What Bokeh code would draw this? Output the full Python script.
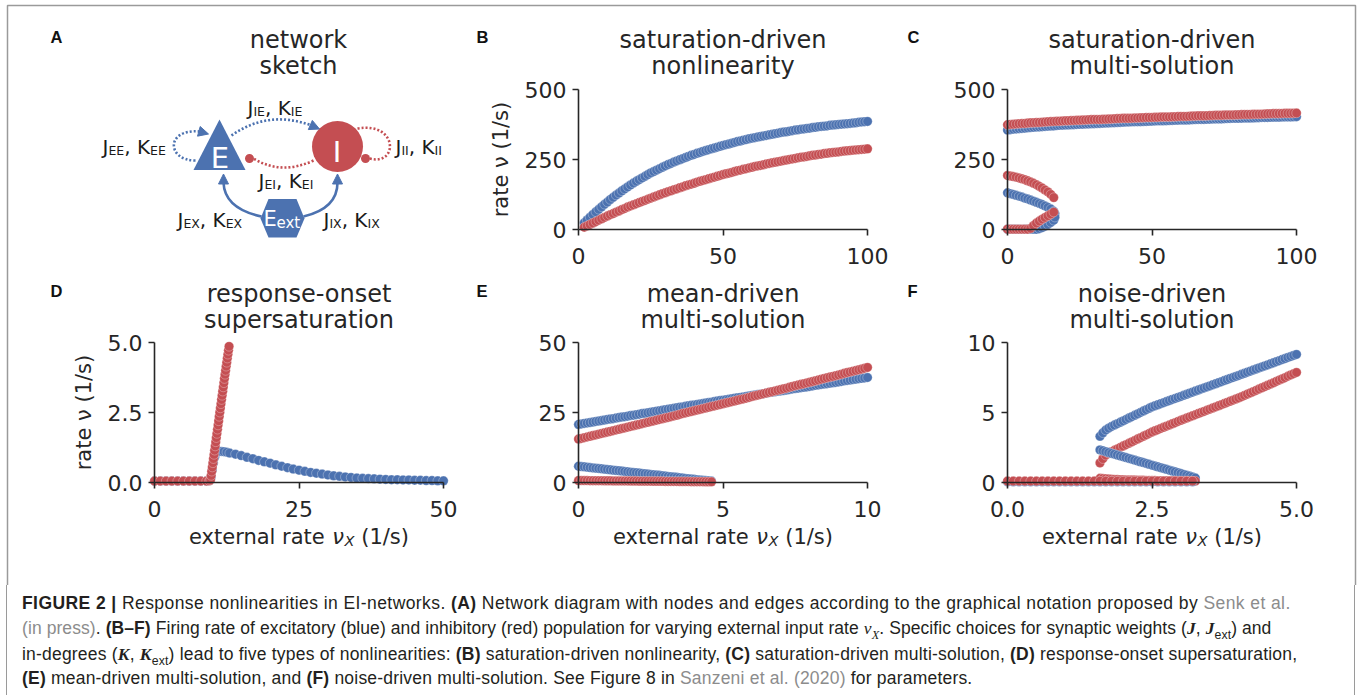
from bokeh.plotting import figure
from bokeh.models import (Range1d, LinearAxis, FixedTicker, PrintfTickFormatter,
                          Arrow, NormalHead, Div)
from bokeh.layouts import column
from bokeh.embed import file_html
from bokeh.resources import INLINE
from bokeh.core.properties import value

BLUE = "#4C72B0"
RED = "#C44E52"
INK = "#262626"
FONT = "DejaVu Sans"

# ---------------- data: firing rates (1/s) vs external rate (1/s) ----------------
# B: saturation-driven nonlinearity
b_x = [2, 3, 4, 5, 6, 7, 8, 9, 10, 11, 12, 13, 14, 15, 16, 17, 18, 19, 20, 21, 22, 23,
       24, 25, 26, 27, 28, 29, 30, 31, 32, 33, 34, 35, 36, 37, 38, 39, 40, 41, 42, 43,
       44, 45, 46, 47, 48, 49, 50, 51, 52, 53, 54, 55, 56, 57, 58, 59, 60, 61, 62, 63,
       64, 65, 66, 67, 68, 69, 70, 71, 72, 73, 74, 75, 76, 77, 78, 79, 80, 81, 82, 83,
       84, 85, 86, 87, 88, 89, 90, 91, 92, 93, 94, 95, 96, 97, 98, 99, 100]
b_exc = [24, 34, 44, 54, 63, 72, 81, 90, 98, 107, 115, 123, 130, 138, 145, 152, 159, 166,
         172, 178, 184, 190, 196, 202, 207, 212, 217, 222, 227, 232, 236, 241, 245, 249,
         253, 257, 261, 265, 268, 272, 275, 279, 282, 285, 288, 291, 294, 297, 300, 303,
         305, 308, 311, 314, 316, 319, 321, 324, 326, 328, 330, 332, 334, 336, 338, 340,
         342, 344, 346, 348, 349, 351, 353, 355, 356, 358, 359, 361, 362, 364, 365, 367,
         368, 369, 370, 372, 373, 374, 375, 376, 377, 378, 379, 380, 381, 383, 384, 385, 386]
b_inh = [8, 13, 18, 23, 28, 33, 38, 43, 48, 53, 57, 62, 66, 71, 75, 80, 84, 88, 92, 96,
         100, 104, 108, 112, 116, 120, 124, 128, 131, 135, 138, 142, 145, 149, 152, 156,
         159, 162, 165, 169, 172, 175, 178, 181, 184, 187, 190, 193, 196, 199, 201, 204,
         207, 210, 212, 215, 217, 220, 222, 225, 227, 229, 231, 234, 236, 238, 240, 242,
         244, 246, 248, 250, 252, 254, 256, 258, 259, 261, 263, 265, 266, 268, 269, 271,
         272, 274, 275, 276, 277, 279, 280, 281, 282, 283, 284, 285, 286, 287, 288]

# C: saturation-driven multi-solution (three branches)
c_up_x = [0, 1, 2, 3, 4, 5, 6, 7, 8, 9, 10, 11, 12, 13, 14, 15, 16, 17, 18, 19, 20, 21,
          22, 23, 24, 25, 26, 27, 28, 29, 30, 31, 32, 33, 34, 35, 36, 37, 38, 39, 40, 41,
          42, 43, 44, 45, 46, 47, 48, 49, 50, 51, 52, 53, 54, 55, 56, 57, 58, 59, 60, 61,
          62, 63, 64, 65, 66, 67, 68, 69, 70, 71, 72, 73, 74, 75, 76, 77, 78, 79, 80, 81,
          82, 83, 84, 85, 86, 87, 88, 89, 90, 91, 92, 93, 94, 95, 96, 97, 98, 99, 100]
c_up_exc = [355, 356.5, 358, 359, 360, 361, 362, 363, 364, 365, 366, 366.5, 367, 368, 369,
            369.5, 370, 371, 372, 372.5, 373, 373.5, 374, 374.5, 375, 375.5, 376, 376.5,
            377, 377.5, 378, 378.5, 379, 379.5, 380, 380.5, 381, 381.5, 382, 382.5, 383,
            383.5, 384, 384.5, 385, 385, 385, 385.5, 386, 386.5, 387, 387.5, 388, 388, 388,
            388.5, 389, 389.5, 390, 390.5, 391, 391, 391, 391.5, 392, 392.5, 393, 393, 393,
            393.5, 394, 394.5, 395, 395, 395, 395.5, 396, 396.5, 397, 397, 397, 397.5, 398,
            398, 398, 398.5, 399, 399.5, 400, 400, 400, 400.5, 401, 401, 401, 401.5, 402,
            402, 402, 402.5, 403]
c_up_inh = [374, 375, 376, 377, 378, 378.5, 379, 380, 381, 381.5, 382, 382.5, 383, 384,
            385, 385.5, 386, 386.5, 387, 387.5, 388, 388.5, 389, 389.5, 390, 390.5, 391,
            391.5, 392, 392.5, 393, 393, 393, 393.5, 394, 394.5, 395, 395.5, 396, 396.5,
            397, 397, 397, 397.5, 398, 398.5, 399, 399.5, 400, 400, 400, 400.5, 401, 401.5,
            402, 402, 402, 402.5, 403, 403.5, 404, 404, 404, 404.5, 405, 405.5, 406, 406,
            406, 406.5, 407, 407.5, 408, 408, 408, 408.5, 409, 409, 409, 409.5, 410, 410.5,
            411, 411, 411, 411.5, 412, 412, 412, 412.5, 413, 413.5, 414, 414, 414, 414.5,
            415, 415, 415, 415.5, 416]
c_mid_exc_x = [0, 1, 2, 3, 4, 5, 6, 7, 8, 9, 10, 11, 12, 13, 14, 15, 16, 16.4]
c_mid_exc = [131, 128, 125, 122, 119, 116, 112, 109, 105, 101, 97, 93, 89, 84, 79, 73, 65, 56]
c_mid_inh_x = [0, 1, 2, 3, 4, 5, 6, 7, 8, 9, 10, 11, 12, 13, 14, 15, 16]
c_mid_inh = [193, 191, 189, 187, 184, 181, 178, 174, 170, 165, 160, 154, 148, 141, 134, 125, 114]
c_low_exc_x = [0, 1, 2, 3, 4, 5, 6, 7, 8, 9, 10, 11, 12, 13, 14, 15, 16, 16.4]
c_low_exc = [0.5, 0.5, 0.5, 0.5, 0.5, 0.5, 0.5, 0.5, 0.5, 0.5, 0.5, 3, 7, 12, 18, 25, 33, 44]
c_low_inh_x = [0, 1, 2, 3, 4, 5, 6, 7, 8, 9, 10, 11, 12, 13, 14, 15, 16]
c_low_inh = [1, 1, 1, 1, 1, 1, 1, 1, 4, 14, 23, 30, 37, 43, 49, 55, 62]

# D: response-onset supersaturation
d_exc_x = [0, 1, 2, 3, 4, 5, 6, 7, 8, 9, 9.5, 9.8, 10.0, 10.2, 10.4, 10.6, 10.8, 11.0,
           11.3, 11.6, 12.0, 12.5, 13, 14, 15, 16, 17, 18, 19, 20, 21, 22, 23, 24, 25,
           26, 27, 28, 29, 30, 31, 32, 33, 34, 35, 36, 37, 38, 39, 40, 41, 42, 43, 44,
           45, 46, 47, 48, 49, 50]
d_exc = [0.05, 0.05, 0.05, 0.05, 0.05, 0.05, 0.05, 0.05, 0.05, 0.05, 0.07, 0.2, 0.45,
         0.7, 0.9, 1.02, 1.08, 1.1, 1.11, 1.11, 1.1, 1.08, 1.05, 1.01, 0.96, 0.90, 0.85,
         0.79, 0.74, 0.69, 0.63, 0.58, 0.53, 0.48, 0.44, 0.40, 0.36, 0.33, 0.30, 0.27,
         0.24, 0.22, 0.20, 0.18, 0.16, 0.15, 0.14, 0.13, 0.12, 0.11, 0.10, 0.10, 0.09,
         0.09, 0.08, 0.08, 0.07, 0.07, 0.06, 0.06]
d_inh_x = [0, 1, 2, 3, 4, 5, 6, 7, 8, 9, 9.5, 9.7, 9.8, 9.9, 10.0, 10.1, 10.2, 10.3,
           10.4, 10.5, 10.6, 10.7, 10.8, 10.9, 11.0, 11.1, 11.2, 11.3, 11.4, 11.5, 11.6,
           11.7, 11.8, 11.9, 12.0, 12.1, 12.2, 12.3, 12.4, 12.5, 12.6, 12.7, 12.8, 12.9]
d_inh = [0.05, 0.05, 0.05, 0.05, 0.05, 0.05, 0.05, 0.05, 0.05, 0.05, 0.06, 0.1, 0.25,
         0.4, 0.55, 0.7, 0.85, 1.0, 1.15, 1.3, 1.45, 1.6, 1.75, 1.9, 2.05, 2.2, 2.36,
         2.51, 2.66, 2.81, 2.96, 3.11, 3.26, 3.41, 3.56, 3.71, 3.86, 4.0, 4.15, 4.29,
         4.44, 4.58, 4.72, 4.86]

# E: mean-driven multi-solution
e_up_x = [0.0, 0.1, 0.2, 0.3, 0.4, 0.5, 0.6, 0.7, 0.8, 0.9,
          1.0, 1.1, 1.2, 1.3, 1.4, 1.5, 1.6, 1.7, 1.8, 1.9,
          2.0, 2.1, 2.2, 2.3, 2.4, 2.5, 2.6, 2.7, 2.8, 2.9,
          3.0, 3.1, 3.2, 3.3, 3.4, 3.5, 3.6, 3.7, 3.8, 3.9,
          4.0, 4.1, 4.2, 4.3, 4.4, 4.5, 4.6, 4.7, 4.8, 4.9,
          5.0, 5.1, 5.2, 5.3, 5.4, 5.5, 5.6, 5.7, 5.8, 5.9,
          6.0, 6.1, 6.2, 6.3, 6.4, 6.5, 6.6, 6.7, 6.8, 6.9,
          7.0, 7.1, 7.2, 7.3, 7.4, 7.5, 7.6, 7.7, 7.8, 7.9,
          8.0, 8.1, 8.2, 8.3, 8.4, 8.5, 8.6, 8.7, 8.8, 8.9,
          9.0, 9.1, 9.2, 9.3, 9.4, 9.5, 9.6, 9.7, 9.8, 9.9, 10.0]
e_up_exc = [20.7, 20.9, 21.1, 21.25, 21.4, 21.6, 21.8, 21.95, 22.1, 22.3,
            22.5, 22.65, 22.8, 23.0, 23.2, 23.35, 23.5, 23.7, 23.9, 24.05,
            24.2, 24.4, 24.6, 24.75, 24.9, 25.1, 25.3, 25.45, 25.6, 25.8,
            26.0, 26.15, 26.3, 26.5, 26.7, 26.85, 27.0, 27.2, 27.4, 27.55,
            27.7, 27.85, 28.0, 28.2, 28.4, 28.55, 28.7, 28.9, 29.1, 29.25,
            29.4, 29.55, 29.7, 29.9, 30.1, 30.25, 30.4, 30.55, 30.7, 30.9,
            31.1, 31.25, 31.4, 31.55, 31.7, 31.9, 32.1, 32.25, 32.4, 32.55,
            32.7, 32.85, 33.0, 33.2, 33.4, 33.55, 33.7, 33.85, 34.0, 34.15,
            34.3, 34.5, 34.7, 34.85, 35.0, 35.15, 35.3, 35.45, 35.6, 35.75,
            35.9, 36.1, 36.3, 36.45, 36.6, 36.75, 36.9, 37.05, 37.2, 37.35, 37.5]
e_up_inh = [15.5, 15.75, 16.0, 16.25, 16.5, 16.75, 17.0, 17.25, 17.5, 17.75,
            18.0, 18.25, 18.5, 18.75, 19.0, 19.25, 19.5, 19.75, 20.0, 20.25,
            20.5, 20.75, 21.0, 21.25, 21.5, 21.75, 22.0, 22.25, 22.5, 22.75,
            23.0, 23.25, 23.5, 23.75, 24.0, 24.3, 24.6, 24.85, 25.1, 25.35,
            25.6, 25.85, 26.1, 26.35, 26.6, 26.85, 27.1, 27.35, 27.6, 27.85,
            28.1, 28.35, 28.6, 28.85, 29.1, 29.35, 29.6, 29.85, 30.1, 30.4,
            30.7, 30.95, 31.2, 31.45, 31.7, 31.95, 32.2, 32.45, 32.7, 32.95,
            33.2, 33.45, 33.7, 34.0, 34.3, 34.55, 34.8, 35.05, 35.3, 35.55,
            35.8, 36.05, 36.3, 36.6, 36.9, 37.15, 37.4, 37.65, 37.9, 38.15,
            38.4, 38.7, 39.0, 39.25, 39.5, 39.75, 40.0, 40.25, 40.5, 40.8, 41.1]
e_low_x = [0.0, 0.1, 0.2, 0.3, 0.4, 0.5, 0.6, 0.7, 0.8, 0.9,
           1.0, 1.1, 1.2, 1.3, 1.4, 1.5, 1.6, 1.7, 1.8, 1.9,
           2.0, 2.1, 2.2, 2.3, 2.4, 2.5, 2.6, 2.7, 2.8, 2.9,
           3.0, 3.1, 3.2, 3.3, 3.4, 3.5, 3.6, 3.7, 3.8, 3.9,
           4.0, 4.1, 4.2, 4.3, 4.4, 4.5, 4.6]
e_low_exc = [5.8, 5.7, 5.6, 5.47, 5.35, 5.22, 5.1, 5.0, 4.9, 4.77,
             4.65, 4.52, 4.4, 4.3, 4.2, 4.07, 3.95, 3.82, 3.7, 3.6,
             3.5, 3.37, 3.25, 3.12, 3.0, 2.87, 2.75, 2.65, 2.55, 2.42,
             2.3, 2.17, 2.05, 1.95, 1.85, 1.72, 1.6, 1.47, 1.35, 1.25,
             1.15, 1.02, 0.9, 0.8, 0.7, 0.6, 0.5]
e_low_inh = [0.70, 0.69, 0.68, 0.67, 0.66, 0.65, 0.64, 0.63, 0.62, 0.61,
             0.60, 0.59, 0.58, 0.57, 0.56, 0.55, 0.54, 0.53, 0.52, 0.51,
             0.50, 0.49, 0.48, 0.47, 0.46, 0.45, 0.44, 0.43, 0.42, 0.41,
             0.40, 0.39, 0.38, 0.37, 0.36, 0.35, 0.34, 0.33, 0.32, 0.31,
             0.30, 0.29, 0.28, 0.27, 0.26, 0.25, 0.24]

# F: noise-driven multi-solution
f_up_x = [1.6, 1.65, 1.7, 1.75, 1.8, 1.85, 1.9, 1.95, 2.0, 2.05, 2.1, 2.15, 2.2, 2.25,
          2.3, 2.35, 2.4, 2.45, 2.5, 2.55, 2.6, 2.65, 2.7, 2.75, 2.8, 2.85, 2.9, 2.95,
          3.0, 3.05, 3.1, 3.15, 3.2, 3.25, 3.3, 3.35, 3.4, 3.45, 3.5, 3.55, 3.6, 3.65,
          3.7, 3.75, 3.8, 3.85, 3.9, 3.95, 4.0, 4.05, 4.1, 4.15, 4.2, 4.25, 4.3, 4.35,
          4.4, 4.45, 4.5, 4.55, 4.6, 4.65, 4.7, 4.75, 4.8, 4.85, 4.9, 4.95, 5.0]
f_up_exc = [3.3, 3.55, 3.75, 3.88, 4.0, 4.1, 4.2, 4.3, 4.4, 4.5, 4.6, 4.7, 4.8, 4.9, 5.0,
            5.1, 5.2, 5.3, 5.4, 5.48, 5.55, 5.63, 5.7, 5.78, 5.85, 5.93, 6.0, 6.08, 6.15,
            6.23, 6.3, 6.38, 6.45, 6.53, 6.6, 6.68, 6.75, 6.83, 6.9, 6.98, 7.05, 7.13,
            7.2, 7.28, 7.35, 7.43, 7.5, 7.58, 7.65, 7.73, 7.8, 7.88, 7.95, 8.03, 8.1,
            8.18, 8.25, 8.33, 8.4, 8.48, 8.55, 8.63, 8.7, 8.78, 8.85, 8.93, 9.0, 9.08, 9.15]
f_up_inh = [1.4, 1.7, 1.95, 2.08, 2.2, 2.3, 2.4, 2.5, 2.6, 2.7, 2.8, 2.9, 3.0, 3.1, 3.2,
            3.3, 3.4, 3.5, 3.6, 3.69, 3.77, 3.86, 3.94, 4.02, 4.1, 4.19, 4.27, 4.36, 4.44,
            4.52, 4.6, 4.68, 4.76, 4.84, 4.92, 5.0, 5.08, 5.16, 5.24, 5.32, 5.4, 5.48,
            5.56, 5.64, 5.72, 5.8, 5.88, 5.96, 6.04, 6.13, 6.22, 6.31, 6.4, 6.49, 6.58,
            6.67, 6.76, 6.85, 6.94, 7.03, 7.12, 7.22, 7.31, 7.4, 7.49, 7.59, 7.68, 7.77, 7.86]
f_mid_x = [1.6, 1.65, 1.7, 1.75, 1.8, 1.85, 1.9, 1.95, 2.0, 2.05, 2.1, 2.15, 2.2, 2.25,
           2.3, 2.35, 2.4, 2.45, 2.5, 2.55, 2.6, 2.65, 2.7, 2.75, 2.8, 2.85, 2.9, 2.95,
           3.0, 3.05, 3.1, 3.15, 3.2, 3.25]
f_mid_exc = [2.33, 2.27, 2.2, 2.14, 2.08, 2.02, 1.96, 1.9, 1.84, 1.78, 1.72, 1.66, 1.6,
             1.54, 1.48, 1.42, 1.36, 1.3, 1.24, 1.18, 1.12, 1.06, 1.0, 0.94, 0.88, 0.82,
             0.76, 0.7, 0.64, 0.58, 0.52, 0.46, 0.4, 0.32]
f_mid_inh = [0.30, 0.28, 0.26, 0.245, 0.23, 0.22, 0.21, 0.2, 0.19, 0.185, 0.18, 0.175,
             0.17, 0.165, 0.16, 0.155, 0.15, 0.145, 0.14, 0.135, 0.13, 0.13, 0.13, 0.125,
             0.12, 0.12, 0.12, 0.115, 0.11, 0.11, 0.11, 0.105, 0.10, 0.10]
f_low_x = [0, 0.1, 0.2, 0.3, 0.4, 0.5, 0.6, 0.7, 0.8, 0.9, 1.0, 1.1, 1.2, 1.3, 1.4, 1.5,
           1.6, 1.7, 1.8, 1.9, 2.0, 2.1, 2.2, 2.3, 2.4, 2.5, 2.6, 2.7, 2.8, 2.9, 3.0, 3.1, 3.2]
f_low_exc = [0.05, 0.05, 0.05, 0.05, 0.05, 0.05, 0.05, 0.05, 0.05, 0.05, 0.05, 0.05, 0.05,
             0.05, 0.05, 0.05, 0.05, 0.05, 0.05, 0.05, 0.05, 0.05, 0.05, 0.05, 0.05, 0.05,
             0.05, 0.05, 0.05, 0.05, 0.05, 0.05, 0.05]
f_low_inh = [0.1, 0.1, 0.1, 0.1, 0.1, 0.1, 0.1, 0.1, 0.1, 0.1, 0.1, 0.1, 0.1, 0.1, 0.1, 0.1,
             0.1, 0.1, 0.1, 0.1, 0.1, 0.1, 0.1, 0.1, 0.1, 0.1, 0.1, 0.1, 0.1, 0.1, 0.1, 0.1, 0.1]

titles = {
    "A": ("network", "sketch"),
    "B": ("saturation-driven", "nonlinearity"),
    "C": ("saturation-driven", "multi-solution"),
    "D": ("response-onset", "supersaturation"),
    "E": ("mean-driven", "multi-solution"),
    "F": ("noise-driven", "multi-solution"),
}

# ---------------- canvas ----------------
W, H = 1358, 585
p = figure(width=W, height=H, x_range=Range1d(0, W), y_range=Range1d(H, 0),
           min_border=0, outline_line_color=None, toolbar_location=None,
           output_backend="svg", x_axis_type=None, y_axis_type=None)
p.background_fill_color = "white"
p.border_fill_color = "white"

COLS = [154, 578, 1007]         # left edge of the plot area of each column
ROWS = [(229, 89), (482, 342)]  # (y of zero line, y of top) per row
PW = 289
TEXT_DY = -7                    # baseline correction for text glyphs


def txt(x, y, s, size, color=INK, font=FONT, style="normal", align="left",
        baseline="alphabetic"):
    p.text(x=[x], y=[y + TEXT_DY], text=[s], text_font=value(font),
           text_font_size=value(f"{size}px"), text_font_style=style,
           text_color=color, text_align=align, text_baseline=baseline)


x_ranges, y_ranges = {}, {}


def panel(name, col, row, xlim, ylim, xticks, yticks, xfmt="%d", yfmt="%d",
          ylabel=None, xlabel=False):
    left = COLS[col]
    bottom, top = ROWS[row]
    x0, x1 = xlim
    y0, y1 = ylim
    sx = PW / (x1 - x0)
    sy = (bottom - top) / (y1 - y0)
    x_ranges[name] = Range1d(x0 - left / sx, x0 + (W - left) / sx)
    y_ranges[name] = Range1d(y0 - (H - bottom) / sy, y0 + bottom / sy)

    xa = LinearAxis(x_range_name=name, y_range_name=name, fixed_location=y0,
                    bounds=(x0, x1), ticker=FixedTicker(ticks=xticks),
                    formatter=PrintfTickFormatter(format=xfmt))
    ya = LinearAxis(x_range_name=name, y_range_name=name, fixed_location=x0,
                    bounds=(y0, y1), ticker=FixedTicker(ticks=yticks),
                    formatter=PrintfTickFormatter(format=yfmt))
    for ax in (xa, ya):
        ax.axis_line_color = INK
        ax.axis_line_width = 1.6
        ax.major_tick_line_color = INK
        ax.major_tick_line_width = 1.6
        ax.major_tick_in = 0
        ax.major_tick_out = 6
        ax.minor_tick_line_color = None
        ax.major_label_text_font = FONT
        ax.major_label_text_font_size = "22px"
        ax.major_label_text_color = INK
    xa.major_label_standoff = 12
    ya.major_label_standoff = 6
    if ylabel:
        ya.axis_label = ylabel
        ya.axis_label_text_font = FONT
        ya.axis_label_text_font_size = "21px"
        ya.axis_label_text_font_style = "normal"
        ya.axis_label_text_color = INK
        ya.axis_label_standoff = 9
    p.add_layout(xa, "below")
    p.add_layout(ya, "left")

    cx = left + PW / 2
    l1, l2 = titles[name]
    txt(cx, 46 + 254 * row, l1, 24, align="center")
    txt(cx, 72 + 254 * row, l2, 24, align="center")
    letter_x = [50, 476, 907][col]
    txt(letter_x, 43 + 254 * row, name, 16.5, color="#111111",
        font="Liberation Sans", style="bold")

    if xlabel:
        # external rate ν_X (1/s), with italic ν and subscript X
        fs = 21
        parts = [("external rate", fs, 6.499, "normal", 0),
                 (" ", fs, 0.318, None, 0),
                 ("ν", fs, 0.592, "italic", 0),
                 ("X", 14.5, 0.685, "italic", 4),
                 (" ", fs, 0.318, None, 0),
                 ("(1/s)", fs, 2.274, "normal", 0)]
        total = sum(size * em for _, size, em, _, _ in parts)
        x = cx - total / 2
        base = 543
        for s, size, em, style, dy in parts:
            if style is not None:
                txt(x, base + dy, s, size, style=style)
            x += size * em


def dots(name, xs, ys, color):
    p.scatter(xs, ys, x_range_name=name, y_range_name=name, size=9.5,
              fill_color=color, line_color="white", line_width=0.5, line_alpha=0.6)


panel("B", 1, 0, (0, 100), (0, 500), [0, 50, 100], [0, 250, 500], ylabel="rate ν (1/s)")
panel("C", 2, 0, (0, 100), (0, 500), [0, 50, 100], [0, 250, 500])
panel("D", 0, 1, (0, 50), (0, 5), [0, 25, 50], [0, 2.5, 5], yfmt="%.1f",
      ylabel="rate ν (1/s)", xlabel=True)
panel("E", 1, 1, (0, 10), (0, 50), [0, 5, 10], [0, 25, 50], xlabel=True)
panel("F", 2, 1, (0, 5), (0, 10), [0, 2.5, 5], [0, 5, 10], xfmt="%.1f", xlabel=True)
p.extra_x_ranges = x_ranges
p.extra_y_ranges = y_ranges

dots("B", b_x, b_exc, BLUE)
dots("B", b_x, b_inh, RED)

dots("C", c_up_x, c_up_exc, BLUE)
dots("C", c_up_x, c_up_inh, RED)
dots("C", c_mid_exc_x, c_mid_exc, BLUE)
dots("C", c_mid_inh_x, c_mid_inh, RED)
dots("C", c_low_exc_x, c_low_exc, BLUE)
dots("C", c_low_inh_x, c_low_inh, RED)

dots("D", d_exc_x, d_exc, BLUE)
dots("D", d_inh_x, d_inh, RED)

dots("E", e_up_x, e_up_exc, BLUE)
dots("E", e_up_x, e_up_inh, RED)
dots("E", e_low_x, e_low_exc, BLUE)
dots("E", e_low_x, e_low_inh, RED)

dots("F", f_up_x, f_up_exc, BLUE)
dots("F", f_up_x, f_up_inh, RED)
dots("F", f_mid_x, f_mid_exc, BLUE)
dots("F", f_mid_x, f_mid_inh, RED)
dots("F", f_low_x, f_low_exc, BLUE)
dots("F", f_low_x, f_low_inh, RED)

# ---------------- panel A: network sketch ----------------
txt(298, 46, titles["A"][0], 24, align="center")
txt(298, 72, titles["A"][1], 24, align="center")
txt(50, 43, "A", 16.5, color="#111111", font="Liberation Sans", style="bold")

DOT = "2 2"
# E -> I (excitatory, dotted, arrow)
p.quadratic(x0=[231], y0=[135], x1=[311], y1=[125], cx=[268], cy=[109],
            line_color=BLUE, line_width=2.6, line_dash=DOT)
# I -> E (inhibitory, dotted, round end)
p.quadratic(x0=[313], y0=[160], x1=[253], y1=[158], cx=[281], cy=[175],
            line_color=RED, line_width=2.6, line_dash=DOT)
# E -> E self loop
p.bezier(x0=[195], y0=[160], x1=[199], y1=[131], cx0=[166], cy0=[160], cx1=[165], cy1=[128],
         line_color=BLUE, line_width=2.6, line_dash=DOT)
# I -> I self loop
p.bezier(x0=[357], y0=[128], x1=[369], y1=[158], cx0=[398], cy0=[121], cx1=[398], cy1=[166],
         line_color=RED, line_width=2.6, line_dash=DOT)
# external input -> E and -> I
p.quadratic(x0=[261], y0=[216], x1=[223], y1=[182], cx=[224], cy=[208],
            line_color=BLUE, line_width=2.6)
p.quadratic(x0=[303], y0=[216], x1=[337], y1=[182], cx=[337], cy=[208],
            line_color=BLUE, line_width=2.6)

for xs, ys, xe, ye in [(311, 125, 319, 128.5), (199, 131, 208, 133.5),
                       (223, 184, 223, 173.5), (337, 184, 337, 173.5)]:
    p.add_layout(Arrow(end=NormalHead(size=10, fill_color=BLUE, line_color=BLUE, line_width=1),
                       x_start=xs, y_start=ys, x_end=xe, y_end=ye,
                       line_alpha=0, line_width=0))
p.scatter(x=[249, 365], y=[158, 158], size=9, fill_color=RED, line_color=None)

# nodes
p.patch([193, 245, 219], [169.5, 169.5, 119], fill_color=BLUE, line_color=None)
p.circle(x=[337], y=[146], radius=25.5, fill_color=RED, line_color=None)
p.patch([260, 268, 296, 304, 296, 268], [218, 198.5, 198.5, 218, 237, 237],
        fill_color=BLUE, line_color=None)
txt(219.5, 164, "E", 29, color="white", align="center")
txt(336.5, 158, "I", 29, color="white", align="center")
txt(263, 225, "E", 21, color="white")
txt(276, 229, "ext", 15, color="white")

# synapse labels J_xy, K_xy
ADV = {"J": 0.295, "E": 0.632, "I": 0.295, "K": 0.656, "X": 0.685, ",": 0.318, " ": 0.318}


def syn_label(x_left, base, a, b):
    x = x_left
    for s, sub in [("J", False), (a + b, True), (", K", False), (a + b, True)]:
        size = 12.5 if sub else 20
        txt(x, base + (3.5 if sub else 0), s, size, color="#1a1a1a")
        x += sum(ADV[c] for c in s) * size


syn_label(102, 153, "E", "E")
syn_label(247, 114.5, "I", "E")
syn_label(395, 153, "I", "I")
syn_label(258, 187, "E", "I")
syn_label(177, 226, "E", "X")
syn_label(323, 226, "I", "X")

# figure frame
p.line([7, 7, 1355, 1355], [H, 5, 5, H], line_color="#9a9a9a", line_width=1.5)

# ---------------- caption ----------------
REF = 'style="color:#8c8c8c"'
MB = 'style="font-family:\'Liberation Serif\',serif;font-weight:bold;font-style:italic"'
MI = 'style="font-family:\'Liberation Serif\',serif;font-style:italic"'
lines = [
    '<b>FIGURE 2 |</b> Response nonlinearities in EI-networks. <b>(A)</b> Network diagram '
    'with nodes and edges according to the graphical notation proposed by '
    f'<span {REF}>Senk et al.</span>',
    f'<span {REF}>(in press)</span>. <b>(B–F)</b> Firing rate of excitatory (blue) and '
    'inhibitory (red) population for varying external input rate '
    f'<span {MI}>ν<sub style="font-size:70%">X</sub></span>. Specific choices for synaptic '
    f'weights (<span {MB}>J</span>, <span {MB}>J</span><sub style="font-size:70%">ext</sub>) and',
    f'in-degrees (<span {MB}>K</span>, <span {MB}>K</span><sub style="font-size:70%">ext</sub>) '
    'lead to five types of nonlinearities: <b>(B)</b> saturation-driven nonlinearity, '
    '<b>(C)</b> saturation-driven multi-solution, <b>(D)</b> response-onset supersaturation,',
    '<b>(E)</b> mean-driven multi-solution, and <b>(F)</b> noise-driven multi-solution. '
    f'See Figure 8 in <span {REF}>Sanzeni et al. (2020)</span> for parameters.',
]
tops = [8, 33, 58.5, 83]
spacing = [0.42, 0.08, 0.2, 0.2]
body = "".join(
    f'<div style="position:absolute;left:22px;top:{t}px;line-height:20px;'
    f'letter-spacing:{ls}px;white-space:nowrap;">{ln}</div>'
    for t, ls, ln in zip(tops, spacing, lines))
html = (
    '<div style="position:relative;width:1358px;height:110px;'
    "font-family:'Liberation Sans',Arial,sans-serif;font-size:17.5px;"
    'color:#231f20;">'
    '<div style="position:absolute;left:6.25px;top:0;width:0;height:110px;'
    'border-left:1.5px solid #9a9a9a"></div>'
    '<div style="position:absolute;left:1354.25px;top:0;width:0;height:110px;'
    'border-left:1.5px solid #9a9a9a"></div>'
    f'{body}</div>'
)
cap = Div(text=html, width=1358, height=110, margin=0)

layout = column(p, cap)
open("out.html", "w").write(file_html(layout, INLINE))
